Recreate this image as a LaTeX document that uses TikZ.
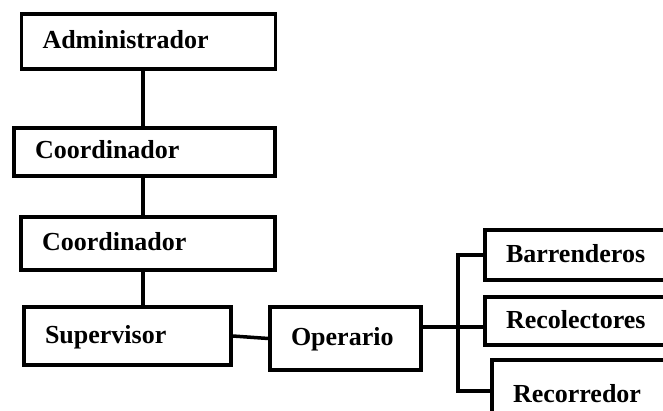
\documentclass[tikz,border=0pt]{standalone}
\usepackage{fontspec}
\setmainfont{Liberation Serif}
\usetikzlibrary{calc}
\tikzset{
  caja/.style 2 args={draw, line width=3.5pt, inner xsep=21pt, inner ysep=0pt,
    text width=#1, minimum height=#2, align=left, text height=18pt, text depth=4pt,
    font=\fontsize{26}{30}\selectfont\bfseries},
  linea/.style={line width=3.5pt}
}
\begin{document}
\begin{tikzpicture}[x=1pt, y=-1pt]
        \useasboundingbox (0,0) rectangle (663,411);
        \clip (0,0) rectangle (663,411);
        % cadena de mando
        \node[caja={212pt}{55pt}] (adm) at (148.5,41.5) {Administrador};
        \node[caja={219pt}{48pt}] (coo1) at (144.5,152) {Coordinador};
        \node[caja={212pt}{53pt}] (coo2) at (148,243.5) {Coordinador};
        \node[caja={165pt}{58pt}] (sup) at (127.5,336) {Supervisor};
        \node[caja={109pt}{63pt}] (ope) at (345.5,338.5) {Operario};
        % cuadrillas
        \node[caja={198pt}{50pt}] (bar) at (605,255) {Barrenderos};
        \node[caja={198pt}{48pt}] (rec) at (605,321) {Recolectores};
        \node[caja={198pt}{70pt}] (rcd) at (612,395) {Recorredor};
        \coordinate (eje) at (143,0);
        \coordinate (nudo) at (458,327);
        \coordinate (pie) at (458,391);
        \draw[linea] (adm.south -| eje) -- (coo1.north -| eje);
        \draw[linea] (coo1.south -| eje) -- (coo2.north -| eje);
        \draw[linea] (coo2.south -| eje) -- (sup.north -| eje);
        \draw[linea] (sup.east) -- (ope.west);
        \draw[linea] (ope.east |- nudo) -- (nudo -| rec.west);
        \draw[linea] (bar.west) -| (pie) -- (pie -| rcd.west);
\end{tikzpicture}
\end{document}
